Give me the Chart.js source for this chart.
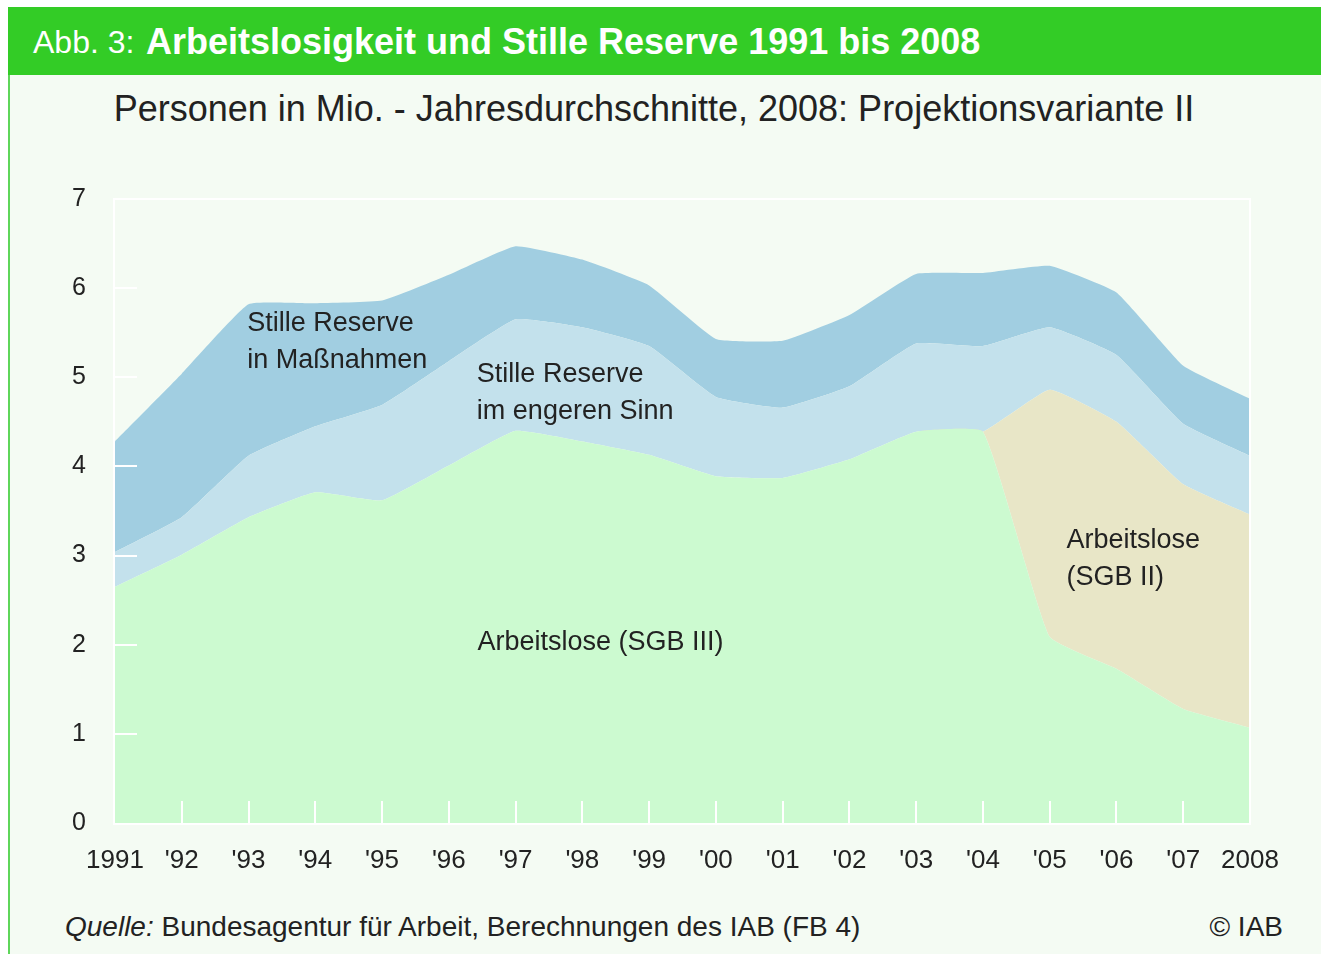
<!DOCTYPE html>
<html>
<head>
<meta charset="utf-8">
<script src="https://cdn.jsdelivr.net/npm/chart.js@4.4.1/dist/chart.umd.min.js"></script>
<style>
  body { margin: 0; background: #fff; font-family: "Liberation Sans", Arial, sans-serif; }
  #page { position: relative; width: 1321px; height: 954px; overflow: hidden; }
  #panel { position: absolute; left: 8px; top: 7px; width: 1313px; height: 947px; background: #f4fbf3; border-left: 2px solid #5fd65a; box-sizing: border-box; }
  #head { position: absolute; left: 8px; top: 7px; width: 1313px; height: 68px; background: #33cc26; color: #fff; white-space: nowrap; }
  #head span.n { position: absolute; left: 25px; top: 17px; font-size: 32px; }
  #head span.t { position: absolute; left: 138px; top: 14px; font-size: 36px; font-weight: bold; }
  #sub { position: absolute; left: 0; width: 1308px; top: 88px; text-align: center; font-size: 36px; color: #222; white-space: nowrap; }
  #src { position: absolute; left: 65px; top: 911px; font-size: 28px; color: #222; white-space: nowrap; }
  #copy { position: absolute; right: 38px; top: 911px; font-size: 28px; color: #222; }
  #wrap { position: absolute; left: 0; top: 150px; width: 1321px; height: 740px; }
</style>
</head>
<body>
<div id="page">
  <div id="panel"></div>
  <div id="head"><span class="n">Abb. 3:</span><span class="t">Arbeitslosigkeit und Stille Reserve 1991 bis 2008</span></div>
  <div id="sub">Personen in Mio. - Jahresdurchschnitte, 2008: Projektionsvariante II</div>
  <div id="wrap"><canvas id="chart" width="1321" height="740"></canvas></div>
  <div id="src"><i>Quelle:</i> Bundesagentur für Arbeit, Berechnungen des IAB (FB 4)</div>
  <div id="copy">© IAB</div>
</div>
<script>
// Jahre und Achsenbeschriftung
var years = ['1991', "'92", "'93", "'94", "'95", "'96", "'97", "'98", "'99", "'00", "'01", "'02", "'03", "'04", "'05", "'06", "'07", '2008'];

// Werte in Mio. Personen (gestapelt)
var sgb3      = [2.65, 3.01, 3.43, 3.71, 3.62, 4.01, 4.40, 4.28, 4.13, 3.89, 3.87, 4.08, 4.39, 4.39, 2.09, 1.73, 1.28, 1.07];
var sgb2      = [0, 0, 0, 0, 0, 0, 0, 0, 0, 0, 0, 0, 0, 0, 2.77, 2.77, 2.52, 2.39];
var engerSinn = [0.39, 0.42, 0.69, 0.74, 1.07, 1.17, 1.25, 1.28, 1.22, 0.89, 0.79, 0.82, 0.99, 0.96, 0.70, 0.75, 0.68, 0.66];
var massnahme = [1.24, 1.61, 1.70, 1.38, 1.17, 0.97, 0.82, 0.76, 0.68, 0.65, 0.75, 0.80, 0.78, 0.82, 0.69, 0.70, 0.65, 0.64];

var yTicks = [0, 1, 2, 3, 4, 5, 6, 7];

// Beschriftungen im Diagramm: [Jahresindex, Wert, Zeilen]
var areaLabels = [
  [1.98, 5.6, ['Stille Reserve', 'in Maßnahmen']],
  [5.42, 5.03, ['Stille Reserve', 'im engeren Sinn']],
  [5.43, 2.02, ['Arbeitslose (SGB III)']],
  [14.25, 3.17, ['Arbeitslose', '(SGB II)']]
];

var txtColor = '#222';
var fontFam = '"Liberation Sans", Arial, sans-serif';

var overlay = {
  id: 'overlay',
  afterDatasetsDraw: function(chart) {
    var c = chart.ctx, a = chart.chartArea;
    var xs = chart.scales.x, ys = chart.scales.y;
    c.save();
    c.strokeStyle = '#ffffff';
    c.lineWidth = 2;
    c.strokeRect(a.left - 1, a.top, a.right - a.left + 1, a.bottom - a.top + 1);
    c.beginPath();
    for (var i = 1; i < years.length - 1; i++) {
      var px = Math.round(xs.getPixelForValue(i));
      c.moveTo(px, a.bottom);
      c.lineTo(px, a.bottom - 22);
    }
    for (var j = 1; j < yTicks.length - 1; j++) {
      var py = Math.round(ys.getPixelForValue(yTicks[j]));
      c.moveTo(a.left, py);
      c.lineTo(a.left + 22, py);
    }
    c.stroke();

    c.fillStyle = txtColor;
    c.font = '27px ' + fontFam;
    c.textBaseline = 'middle';
    var x0 = xs.getPixelForValue(0), step = xs.getPixelForValue(1) - x0;
    areaLabels.forEach(function(l) {
      var lx = x0 + l[0] * step, ly = ys.getPixelForValue(l[1]);
      l[2].forEach(function(t, k) { c.fillText(t, lx, ly + k * 37); });
    });
    c.restore();
  }
};

var ctx = document.getElementById('chart');
var myChart = new Chart(ctx, {
  type: 'line',
  data: {
    labels: years,
    datasets: [
      { label: 'Arbeitslose (SGB III)', data: sgb3, backgroundColor: '#ccfad0', fill: 'origin' },
      { label: 'Arbeitslose (SGB II)', data: sgb2, backgroundColor: '#e8e6c7', fill: '-1' },
      { label: 'Stille Reserve im engeren Sinn', data: engerSinn, backgroundColor: '#c3e1ec', fill: '-1' },
      { label: 'Stille Reserve in Maßnahmen', data: massnahme, backgroundColor: '#a1cee1', fill: '-1' }
    ]
  },
  options: {
    responsive: false,
    animation: false,
    devicePixelRatio: 1,
    layout: { padding: { left: 0, right: 71, top: 49, bottom: 7 } },
    elements: {
      line: { borderWidth: 0, tension: 0.12 },
      point: { radius: 0 }
    },
    plugins: { legend: { display: false }, tooltip: { enabled: false } },
    scales: {
      x: {
        offset: false,
        grid: { display: false, drawTicks: false },
        border: { display: false },
        ticks: { color: txtColor, padding: 22, maxRotation: 0, autoSkip: false,
                 font: { size: 26, family: fontFam } },
        afterFit: function(s) { s.height = 60; }
      },
      y: {
        stacked: true,
        min: 0, max: 7,
        grid: { display: false, drawTicks: false },
        border: { display: false },
        ticks: { stepSize: 1, color: txtColor, padding: 29,
                 font: { size: 25, family: fontFam } },
        afterFit: function(s) { s.width = 115; }
      }
    }
  },
  plugins: [overlay]
});
</script>
</body>
</html>
